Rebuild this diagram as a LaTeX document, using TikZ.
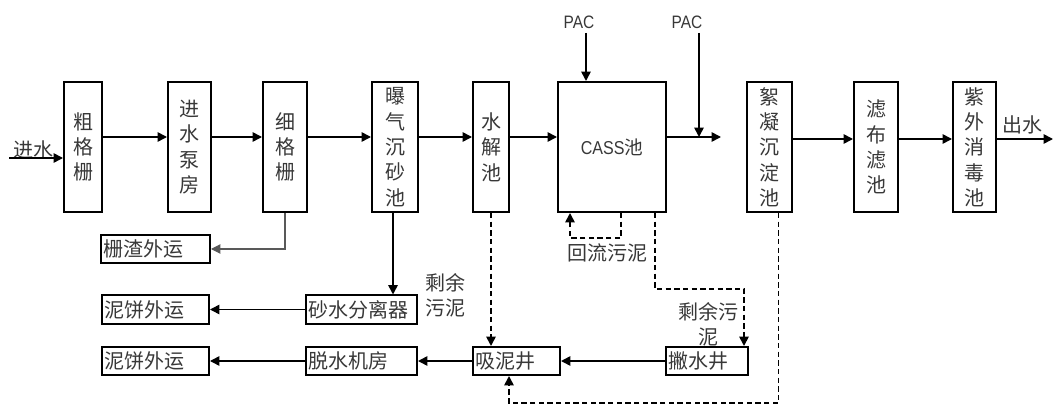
\documentclass[tikz,border=0pt]{standalone}
\usepackage{fontspec}
\setmainfont{Noto Sans CJK SC}
\newfontfamily\latn[FakeStretch=0.86]{Liberation Sans}
\usetikzlibrary{arrows.meta,calc}
\definecolor{txt}{gray}{0.22}
\tikzset{
  vbox/.style={draw, line width=1.5pt, inner sep=0pt, text=txt, align=center,
    font={\fontsize{15}{19}\selectfont}, minimum height=97.5pt},
  sbox/.style={draw, line width=1.5pt, inner xsep=2pt, inner ysep=0pt, text=txt, align=left,
    font={\fontsize{15}{19}\selectfont}, minimum height=21pt},
  lbl/.style={text=txt, inner sep=0pt, align=center, font={\fontsize{15}{19}\selectfont}},
  arr/.style={line width=1.2pt, -{Triangle[length=7pt,width=7pt]}},
  darr/.style={line width=1.3pt, dash pattern=on 4pt off 2.5pt, -{Triangle[length=7pt,width=7pt]}},
}
\begin{document}
\begin{tikzpicture}[x=0.75pt,y=-0.75pt]
\useasboundingbox (0,0) rectangle (1054,406);
% main row
\node[vbox, minimum width=28.5pt] (cu) at (83,147) {粗\\格\\栅};
\node[vbox, minimum width=32.25pt] (js) at (189.5,147) {进\\水\\泵\\房};
\node[vbox, minimum width=33pt] (xg) at (285,147) {细\\格\\栅};
\node[vbox, minimum width=34.5pt] (bq) at (395,147) {曝\\气\\沉\\砂\\池};
\node[vbox, minimum width=27pt] (sj) at (491,147) {水\\解\\池};
\node[vbox, minimum width=81pt, font={\fontsize{14}{17}\selectfont}] (cass) at (612,147) {\raisebox{-4pt}{{\latn CASS}池}};
\node[vbox, minimum width=33.75pt] (xn) at (769.5,147) {絮\\凝\\沉\\淀\\池};
\node[vbox, minimum width=33pt] (lb) at (876,147) {滤\\布\\滤\\池};
\node[vbox, minimum width=32.25pt] (zw) at (974.5,147) {紫\\外\\消\\毒\\池};
% small boxes
\node[sbox, text width=77.75pt] (zz) at (155.5,249) {\raisebox{-2pt}{栅渣外运}};
\node[sbox, text width=76.25pt] (nb1) at (155.5,309.5) {\raisebox{-2pt}{泥饼外运}};
\node[sbox, text width=79.25pt] (sf) at (361.5,309.5) {\raisebox{-2pt}{砂水分离器}};
\node[sbox, text width=76.25pt] (nb2) at (155.5,361) {\raisebox{-2pt}{泥饼外运}};
\node[sbox, text width=79.25pt] (ts) at (361.5,361) {\raisebox{-2pt}{脱水机房}};
\node[sbox, text width=61.25pt] (xj) at (516.5,361) {\raisebox{-2pt}{吸泥井}};
\node[sbox, text width=57.5pt] (pj) at (707,361) {\raisebox{-2pt}{撇水井}};
% labels
\node[lbl] (in) at (33,150) {进水};
\node[lbl] (out) at (1022,125) {出水};
\node[text=txt, inner sep=0pt, font={\latn\fontsize{13.5}{16}\selectfont}] (pac1) at (579,22) {PAC};
\node[text=txt, inner sep=0pt, font={\latn\fontsize{13.5}{16}\selectfont}] (pac2) at (687,22) {PAC};
\node[lbl] (hl) at (607,253) {回流污泥};
\node[lbl] (sy1) at (445,295) {剩余\\污泥};
\node[lbl] (sy2) at (708,324.5) {剩余污\\泥};
% coordinates
\coordinate (ml) at (0,137);
\coordinate (mr) at (0,139);
\coordinate (inS) at (9,158);
\coordinate (p1) at (586,33);
\coordinate (p2) at (699,33);
\coordinate (cassOut) at (721,137);
\coordinate (outE) at (1053,139);
\coordinate (bqs) at ($(bq.south)+(-2,0)$);
\coordinate (hlA) at ($(cass.south west)+(64,0)$);
\coordinate (hlB) at ($(cass.south west)+(13,0)$);
\coordinate (cpA) at ($(cass.south west)+(98,0)$);
\coordinate (cpB) at ($(pj.north east)+(-5,0)$);
\coordinate (xnA) at ($(xn.south)+(9,0)$);
\coordinate (xjB) at ($(xj.south west)+(37,0)$);
% main flow
\draw[arr] (inS) -- (inS -| cu.west);
\draw[arr] (cu.east |- ml) -- (js.west |- ml);
\draw[arr] (js.east |- ml) -- (xg.west |- ml);
\draw[arr] (xg.east |- ml) -- (bq.west |- ml);
\draw[arr] (bq.east |- ml) -- (sj.west |- ml);
\draw[arr] (sj.east |- ml) -- (cass.west |- ml);
\draw[arr] (cass.east |- ml) -- (cassOut);
\draw[arr] (p1) -- (p1 |- cass.north);
\draw[arr] (p2) -- (p2 |- cassOut);
\draw[arr] (xn.east |- mr) -- (lb.west |- mr);
\draw[arr] (lb.east |- mr) -- (zw.west |- mr);
\draw[arr] (zw.east |- mr) -- (outE);
% side flows
\draw[gray!70!black, line width=0.8pt, -{Triangle[length=7pt,width=7pt]}] (xg.south) |- (zz.east);
\draw[arr] (bqs) -- (bqs |- sf.north);
\draw[arr] (sf.west) -- (nb1.east);
\draw[arr] (ts.west) -- (nb2.east);
\draw[arr] (xj.west) -- (ts.east);
\draw[arr] (pj.west) -- (xj.east);
\draw[darr] (sj.south) -- (sj.south |- xj.north);
\draw[darr] (hlA) -- ++(0,25) -| (hlB);
\draw[darr] (cpA) -- ++(0,76) -| (cpB);
\draw[darr] (xnA) -- ++(0,190) -| (xjB);
\end{tikzpicture}
\end{document}
